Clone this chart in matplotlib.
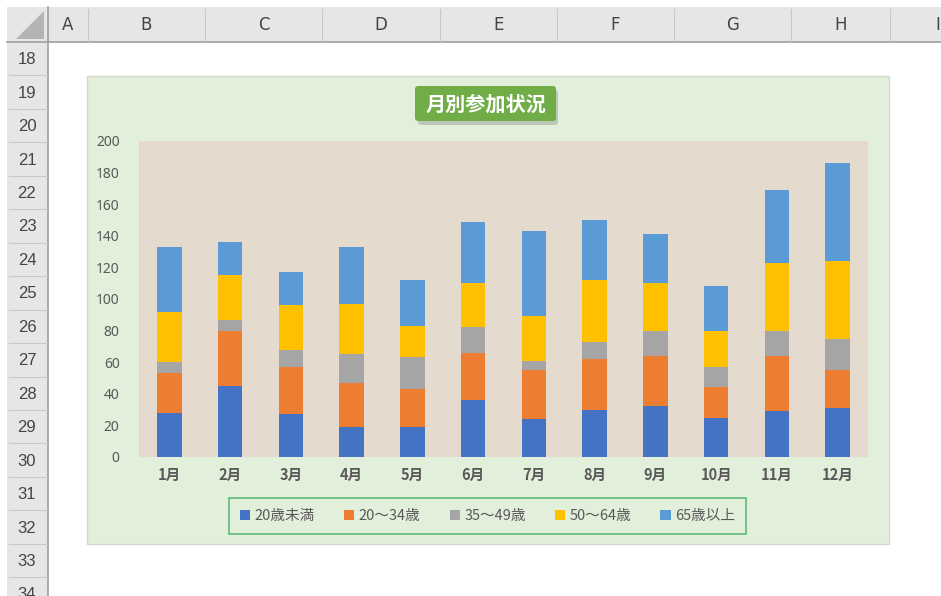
import numpy as np
import matplotlib.pyplot as plt
from matplotlib.patches import Rectangle, FancyBboxPatch, Polygon

plt.rcParams['font.family'] = ['Noto Sans CJK JP', 'DejaVu Sans']

# chart data
months = ['1月', '2月', '3月', '4月', '5月', '6月', '7月', '8月', '9月', '10月', '11月', '12月']
age_groups = ['20歳未満', '20～34歳', '35～49歳', '50～64歳', '65歳以上']
under20 = [28, 45, 27, 19, 19, 36, 24, 30, 32, 25, 29, 31]
age20_34 = [25, 35, 30, 28, 24, 30, 31, 32, 32, 19, 35, 24]
age35_49 = [7, 7, 11, 18, 20, 16, 6, 11, 16, 13, 16, 20]
age50_64 = [32, 28, 28, 32, 20, 28, 28, 39, 30, 23, 43, 49]
over65 = [41, 21, 21, 36, 29, 39, 54, 38, 31, 28, 46, 62]
colors = ['#4472C4', '#ED7D31', '#A5A5A5', '#FFC000', '#5B9BD5']

# spreadsheet frame
col_letters = ['A', 'B', 'C', 'D', 'E', 'F', 'G', 'H', 'I']
col_edges = [48, 88, 205, 322, 440, 557, 674, 791, 890, 985]
row_numbers = list(range(18, 35))

W, H = 941, 596
fig = plt.figure(figsize=(W / 100, H / 100), dpi=100)
bg = fig.add_axes([0, 0, 1, 1])
bg.set_xlim(0, W)
bg.set_ylim(H, 0)
bg.axis('off')

# headers
bg.add_patch(Rectangle((7, 7), W, 35, facecolor='#E6E6E6', edgecolor='none'))
bg.add_patch(Rectangle((7, 7), 41, H, facecolor='#E6E6E6', edgecolor='none'))
bg.plot([7, W], [42, 42], color='#9E9E9E', lw=1.2)
bg.plot([48, 48], [7, H], color='#9E9E9E', lw=1.2)
bg.add_patch(Polygon([[44, 11], [44, 39], [16, 39]], closed=True, facecolor='#B4B4B4', edgecolor='none'))
for i, letter in enumerate(col_letters):
    bg.plot([col_edges[i + 1]] * 2, [9, 41], color='#C8C8C8', lw=0.8)
    bg.text((col_edges[i] + col_edges[i + 1]) / 2, 25, letter, ha='center', va='center',
            fontsize=12, color='#444444', family=['Liberation Sans Narrow', 'DejaVu Sans'])
row_h = 33.45
for i, num in enumerate(row_numbers):
    top = 42 + i * row_h
    bg.plot([9, 47], [top + row_h] * 2, color='#C8C8C8', lw=0.8)
    bg.text(27, top + row_h / 2 + 1, str(num), ha='center', va='center',
            fontsize=12, color='#444444', family=['Liberation Sans', 'DejaVu Sans'])

# chart area
bg.add_patch(Rectangle((87, 76), 802, 468, facecolor='#E2EFDA', edgecolor='#D4D8D0', lw=1))

# title box
bg.add_patch(FancyBboxPatch((418, 90), 140, 35, boxstyle='round,pad=0,rounding_size=3',
                            facecolor='#9AA595', edgecolor='none', alpha=0.5))
bg.add_patch(FancyBboxPatch((415, 86), 141, 35, boxstyle='round,pad=0,rounding_size=3',
                            facecolor='#70AD47', edgecolor='none'))
bg.text(486, 104, '月別参加状況', ha='center', va='center', fontsize=14.5,
        fontweight='bold', color='white')

# plot area
L, R, T, B = 139, 868, 141, 457
ax = fig.add_axes([L / W, (H - B) / H, (R - L) / W, (B - T) / H])
ax.set_facecolor('#E4DBCE')
x = np.arange(len(months))
series = [under20, age20_34, age35_49, age50_64, over65]
bottom = np.zeros(len(months))
for vals, name, c in zip(series, age_groups, colors):
    ax.bar(x, vals, width=0.405, bottom=bottom, color=c, label=name, zorder=2)
    bottom += np.array(vals)

ax.set_xlim(-0.5, len(months) - 0.5)
ax.set_ylim(0, 200)
ax.set_yticks(range(0, 201, 20))
ax.set_yticklabels([str(v) for v in range(0, 201, 20)], family=['Noto Sans', 'DejaVu Sans'])
ax.set_xticks(x)
ax.set_xticklabels(months, fontsize=10.5, fontweight='bold', color='#595959')
ax.tick_params(axis='y', labelsize=10, colors='#595959', length=0, pad=14)
ax.tick_params(axis='x', length=0, pad=7)
for s in ax.spines.values():
    s.set_visible(False)

leg = fig.legend(loc='center', bbox_to_anchor=((233 + 742) / 2 / W, 1 - 516 / H),
                 ncol=5, fontsize=10.5, frameon=True, handlelength=0.7, handleheight=0.7,
                 handletextpad=0.3, columnspacing=2.0, borderpad=0.45)
frame = leg.get_frame()
frame.set_facecolor('#E2EFDA')
frame.set_edgecolor('#3DAE62')
frame.set_linewidth(1.2)
frame.set_boxstyle('square', pad=0.3)
for t in leg.get_texts():
    t.set_color('#595959')

fig.savefig('out.png', dpi=100)
